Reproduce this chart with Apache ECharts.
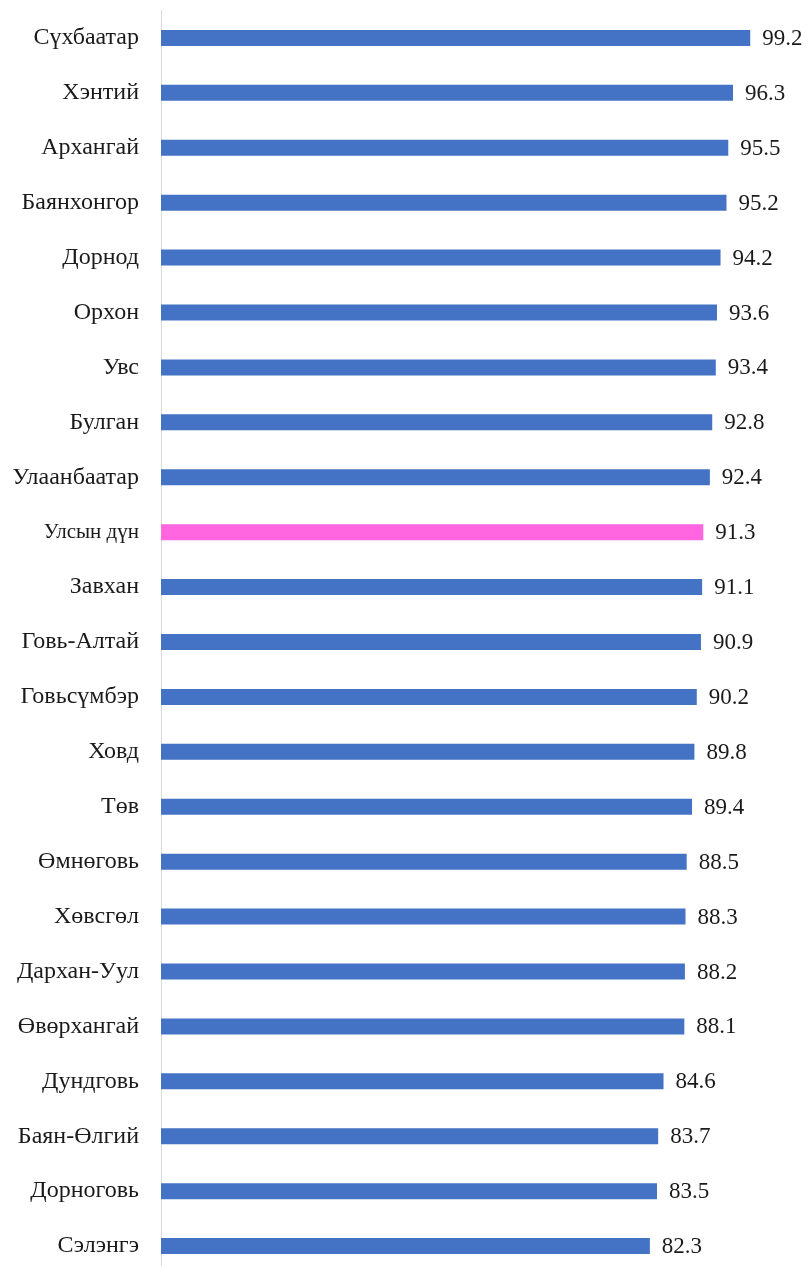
<!DOCTYPE html>
<html><head><meta charset="utf-8">
<script src="https://cdn.jsdelivr.net/npm/echarts@6/dist/echarts.min.js"></script>
<style>html,body{margin:0;padding:0;background:#fff;overflow:hidden}#c{width:808px;height:1280px}</style>
</head><body><div id="c"></div>
<script>
const categories = ["Сүхбаатар","Хэнтий","Архангай","Баянхонгор","Дорнод","Орхон","Увс","Булган","Улаанбаатар","Улсын дүн","Завхан","Говь-Алтай","Говьсүмбэр","Ховд","Төв","Өмнөговь","Хөвсгөл","Дархан-Уул","Өвөрхангай","Дундговь","Баян-Өлгий","Дорноговь","Сэлэнгэ"];
const values = [99.2,96.3,95.5,95.2,94.2,93.6,93.4,92.8,92.4,91.3,91.1,90.9,90.2,89.8,89.4,88.5,88.3,88.2,88.1,84.6,83.7,83.5,82.3];
const highlight = "Улсын дүн";
const BLUE = "#4472C4", PINK = "#FF66E0";
const chart = echarts.init(document.getElementById('c'));
chart.setOption({
  animation:false,
  grid:{left:161, top:10.5, right:53, bottom:6.5},
  xAxis:{type:'value', min:0, max:100, show:false},
  yAxis:{type:'category', inverse:true, data:categories,
    axisLine:{show:true, lineStyle:{color:'#d9d9d9', width:1}},
    axisTick:{show:false},
    axisLabel:{margin:22, color:'#1a1a1a', fontFamily:'Liberation Serif', fontSize:24,
      formatter:v => v===highlight ? '{s|'+v+'}' : v,
      rich:{s:{fontFamily:'Liberation Serif', fontSize:21, color:'#1a1a1a'}}}
  },
  series:[{type:'bar', barWidth:16,
    data: values.map((v,i)=>({value:v, itemStyle:{color: categories[i]===highlight?PINK:BLUE}})),
    label:{show:true, position:'right', distance:12, color:'#1a1a1a', fontFamily:'Liberation Serif', fontSize:23,
      offset:[0,1], formatter:p=>p.value.toFixed(1)}
  }]
});
</script></body></html>
